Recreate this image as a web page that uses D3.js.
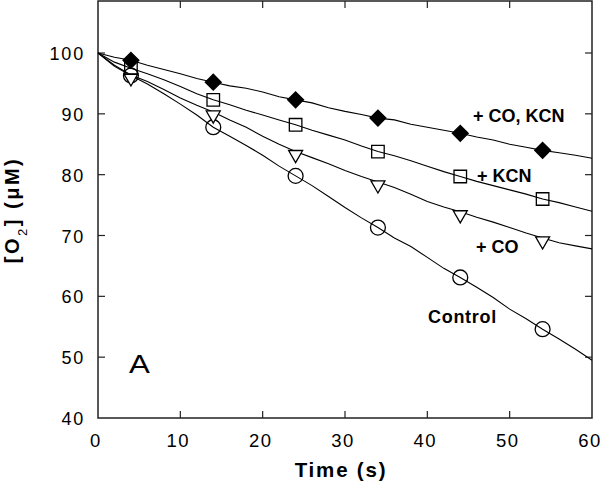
<!DOCTYPE html>
<html><head><meta charset="utf-8">
<script src="https://cdn.jsdelivr.net/npm/d3@7"></script>
<style>body{margin:0;background:#fff}svg{display:block}text{font-family:"Liberation Sans",Arial,sans-serif}</style>
</head><body>
<script>
const times = [0,2,4,6,8,10,12,14,16,18,20,22,24,26,28,30,32,34,36,38,40,42,44,46,48,50,52,54,56,58,60];
const coKcn = [100,99.3,98.8,98.0,97.3,96.6,95.8,95.2,94.6,94.2,93.6,92.8,92.3,91.8,91.0,90.4,89.9,89.3,89.0,88.3,87.8,87.3,86.8,86.2,85.7,85.0,84.5,84.0,83.6,83.2,82.7];
const kcn = [100,98.5,97.5,96.6,95.6,94.5,93.3,92.3,91.5,90.6,89.8,89.0,88.2,87.3,86.5,85.7,84.7,83.8,83.1,82.3,81.4,80.5,79.7,78.9,78.2,77.5,76.8,76.0,75.4,74.7,74.0];
const co = [100,98.0,96.4,95.3,94.0,92.6,91.4,90.3,89.0,87.8,86.3,85.0,83.8,82.8,81.8,80.7,79.7,78.8,77.9,76.8,75.6,74.7,73.9,73.0,72.2,71.3,70.4,69.6,68.8,68.3,67.8];
const control = [100,97.8,96.3,94.9,93.3,91.6,89.8,87.8,86.3,84.8,83.2,81.4,79.8,78.2,76.4,74.6,72.9,71.3,69.6,68.2,66.4,64.6,63.1,61.5,59.8,57.9,56.3,54.6,53.0,51.3,49.5];
const markerTimes = [4,14,24,34,44,54];
const xTicks = [0,10,20,30,40,50,60];
const yTicks = [40,50,60,70,80,90,100];
const seriesNames = ["+ CO, KCN","+ KCN","+ CO","Control"];

const W=601,H=484;
const svg=d3.select("body").append("svg").attr("width",W).attr("height",H);
const x=d3.scaleLinear().domain([0,60]).range([98,592]);
const y=d3.scaleLinear().domain([40,100]).range([418,53]);
const topY=1;
const axisCol="#222";

// frame
svg.append("rect").attr("x",98).attr("y",topY).attr("width",494).attr("height",418-topY)
  .attr("fill","none").attr("stroke",axisCol).attr("stroke-width",1.5);

// ticks
const tl=7;
svg.selectAll(".xt").data(xTicks.slice(1,-1)).join("line")
  .attr("x1",d=>x(d)).attr("x2",d=>x(d)).attr("y1",418).attr("y2",418-tl).attr("stroke",axisCol).attr("stroke-width",1.2);
svg.selectAll(".xtt").data(xTicks.slice(1,-1)).join("line")
  .attr("x1",d=>x(d)).attr("x2",d=>x(d)).attr("y1",topY).attr("y2",topY+tl).attr("stroke",axisCol).attr("stroke-width",1.2);
svg.selectAll(".yt").data(yTicks.slice(1)).join("line")
  .attr("x1",98).attr("x2",98+tl).attr("y1",d=>y(d)).attr("y2",d=>y(d)).attr("stroke",axisCol).attr("stroke-width",1.2);
svg.selectAll(".ytr").data(yTicks.slice(1)).join("line")
  .attr("x1",592).attr("x2",592-tl).attr("y1",d=>y(d)).attr("y2",d=>y(d)).attr("stroke",axisCol).attr("stroke-width",1.2);

// tick labels
svg.selectAll(".xl").data(xTicks).join("text").attr("x",d=>x(d)-2).attr("y",447)
  .attr("text-anchor","middle").attr("font-size",18.5).attr("letter-spacing",1.5).text(d=>d);
svg.selectAll(".yl").data(yTicks).join("text").attr("x",85).attr("y",d=>y(d)+7)
  .attr("text-anchor","end").attr("font-size",18).attr("letter-spacing",1.8).text(d=>d);

// axis titles
svg.append("text").attr("x",341).attr("y",477).attr("text-anchor","middle")
  .attr("font-size",20.5).attr("font-weight","bold").attr("letter-spacing",1.8).text("Time (s)");
const yt=svg.append("text").attr("transform","translate(19,210) rotate(-90)").attr("text-anchor","middle")
  .attr("font-size",20).attr("font-weight","bold").attr("letter-spacing",2.5);
yt.append("tspan").text("[O");
yt.append("tspan").attr("font-size",13).attr("font-weight","normal").attr("dy",8).text("2");
yt.append("tspan").attr("dy",-8).text("]  (μM)");

// lines
const all=[coKcn,kcn,co,control];
const line=d3.line().x((d,i)=>x(times[i])).y(d=>y(d));
all.forEach(s=>svg.append("path").attr("d",line(s)).attr("fill","none").attr("stroke","#000").attr("stroke-width",1.1));

// markers (drawn control first so diamonds end on top)
const val=(s,t)=>s[times.indexOf(t)];
const sym=[d3.symbolDiamond2,d3.symbolSquare2,d3.symbolTriangle2,d3.symbolCircle];
const sizes=[160,200,140,175];
const fills=["#000","none","#fff","none"];
[3,2,1,0].forEach(k=>{
  const s=all[k];
  markerTimes.forEach(t=>{
    let cx=x(t), cy=y(val(s,t));
    let p=d3.symbol().type(sym[k]).size(sizes[k])();
    let g=svg.append("path").attr("d",p).attr("stroke","#000").attr("stroke-width",1.3)
      .attr("fill",fills[k]);
    if(k===2) g.attr("transform",`translate(${cx},${cy+3}) rotate(180)`);
    else g.attr("transform",`translate(${cx},${cy})`);
  });
});

// series labels
const labPos=[[473,122],[477,182],[476,253],[428,323]];
seriesNames.forEach((n,i)=>svg.append("text").attr("x",labPos[i][0]).attr("y",labPos[i][1])
  .attr("font-size",18).attr("font-weight","bold").attr("letter-spacing",i===3?0.7:0).text(n));

svg.append("text").attr("x",129).attr("y",373).attr("font-size",25)
  .attr("transform","translate(129,373) scale(1.25,1) translate(-129,-373)").text("A");
</script>
</body></html>
